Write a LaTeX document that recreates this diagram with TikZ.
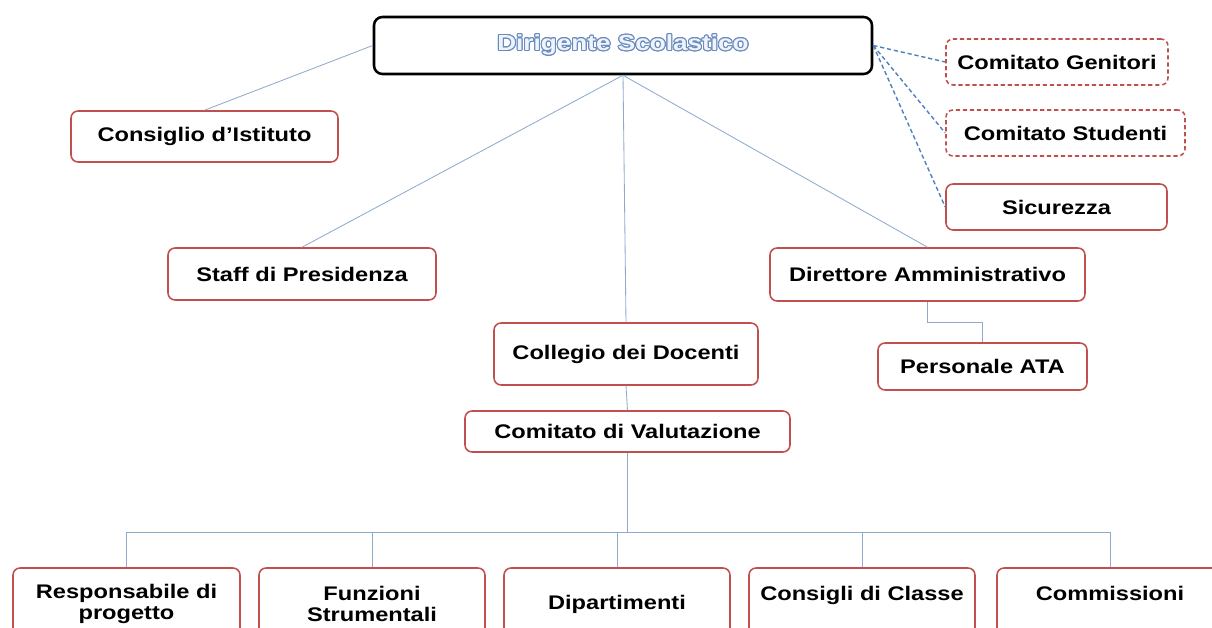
\documentclass[tikz,border=0pt]{standalone}
\usepackage{fontspec}
\setmainfont{Liberation Sans}[FakeStretch=1.2]
\usepackage{contour}
\contourlength{0.75pt}
\definecolor{boxred}{RGB}{192,80,77}
\definecolor{linkblue}{RGB}{143,170,205}
\definecolor{dashblue}{RGB}{79,129,189}
\definecolor{titleblue}{RGB}{105,140,190}
\definecolor{titlefill}{RGB}{240,243,252}
\newcommand{\px}{0.025cm}
\begin{document}
\begin{tikzpicture}[x=\px, y=-\px,
    box/.style={draw=boxred, line width=1.1pt, rounded corners=5pt, fill=white,
        font=\fontsize{14}{15}\selectfont\bfseries, align=center, inner sep=0pt},
    sz/.style 2 args={minimum width=#1*\px, minimum height=#2*\px},
    dashbox/.style={box, dash pattern=on 3pt off 2pt},
    link/.style={draw=linkblue, line width=0.6pt},
    dlink/.style={draw=dashblue, line width=1pt, dash pattern=on 3pt off 2pt}]
    \useasboundingbox (0,0) rectangle (1212,628);

    % top
    \node[draw, line width=1.8pt, rounded corners=6pt, fill=white, sz={498}{57},
        font=\fontsize{15.5}{17}\selectfont\bfseries] (dir) at (623,45.5)
        {\contour{titleblue}{\textcolor{titlefill}{Dirigente Scolastico}}};

    \node[box, sz={267}{51}] (consiglio) at (204.5,136.5) {Consiglio d’Istituto};
    \node[dashbox, sz={222}{46}] (genitori) at (1057,62) {Comitato Genitori};
    \node[dashbox, sz={239}{46}] (studenti) at (1065.5,133) {Comitato Studenti};
    \node[box, sz={221}{46}] (sicurezza) at (1056.5,207) {Sicurezza};

    % middle
    \node[box, sz={268}{52}] (staff) at (302,274) {Staff di Presidenza};
    \node[box, sz={315}{53}] (direttore) at (927.5,274.5) {Direttore Amministrativo};
    \node[box, sz={209}{47}] (ata) at (982.5,366.5) {Personale ATA};
    \node[box, sz={264}{62}] (collegio) at (626,354) {Collegio dei Docenti};
    \node[box, sz={325}{41}] (valutazione) at (627.5,431.5) {Comitato di Valutazione};

    % bottom row
    \node[box, sz={227}{72}] (resp) at (126.5,604) {Responsabile di\\progetto};
    \node[box, sz={226}{72}] (funz) at (372,604) {Funzioni\\Strumentali};
    \node[box, sz={226}{72}] (dip) at (617,604) {Dipartimenti};
    \node[box, sz={226}{72}] (consigli) at (862,604) {Consigli di Classe\\~};
    \node[box, sz={226}{72}] (comm) at (1110,604) {Commissioni\\~};

    % connectors
    \draw[link] (dir.west) -- (consiglio.north);
    \draw[link] (dir.south) -- (staff.north);
    \draw[link] (dir.south) -- (collegio.north);
    \draw[link] (dir.south) -- (direttore.north);
    \draw[link] (direttore.south) -- ++(0,21) -| (ata.north);
    \draw[link] (collegio.south) -- (valutazione.north);

    \coordinate (bus) at (valutazione.south |- 0,532);
    \draw[link] (valutazione.south) -- (bus);
    \foreach \b in {resp,funz,dip,consigli,comm}
        \draw[link] (bus) -| (\b.north);

    \foreach \b in {genitori,studenti,sicurezza}
        \draw[dlink] (dir.east) -- (\b.west);
\end{tikzpicture}
\end{document}
